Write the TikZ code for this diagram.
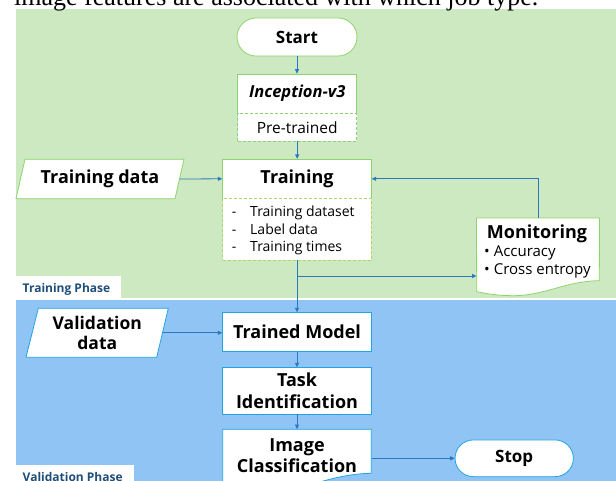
\documentclass[tikz,border=0pt]{standalone}
\usepackage{fontspec}
\setmainfont{Open Sans}
\newfontfamily\capfont{Liberation Serif}
\usetikzlibrary{arrows.meta}
\definecolor{greenbg}{HTML}{CCE9C1}
\definecolor{bluebg}{HTML}{90C4F4}
\definecolor{greenln}{HTML}{8FD36C}
\definecolor{greendash}{HTML}{8FD17A}
\definecolor{olivedash}{HTML}{B3D36B}
\definecolor{blueln}{HTML}{22A3E3}
\definecolor{arrowc}{HTML}{2A78C2}
\definecolor{phasec}{HTML}{1F4E79}
\begin{document}
\begin{tikzpicture}[x=1pt,y=-1pt,
  arr/.style={draw=arrowc, line width=0.8pt, -{Triangle[length=4.5pt,width=4pt]}},
  gbox/.style={draw=greenln, fill=white, line width=0.8pt, inner sep=0pt},
  bbox/.style={draw=blueln, fill=white, line width=0.8pt, inner sep=0pt},
  dashbox/.style={dash pattern=on 3pt off 2pt},
  shapeln/.style={fill=white, line width=0.8pt},
  bigbold/.style={font=\bfseries\fontsize{18}{21.6}\selectfont},
  listtxt/.style={anchor=base west, inner sep=0pt, font=\fontsize{14}{16}\selectfont},
  montxt/.style={anchor=base west, inner sep=0pt, font=\fontsize{15}{18}\selectfont},
  phasetxt/.style={anchor=base west, inner sep=0pt, text=phasec, font=\bfseries\fontsize{12}{15}\selectfont}]
\useasboundingbox (0,0) rectangle (616,481);
\clip (0,0) rectangle (616,481);
% backgrounds
\fill[greenbg] (16,9.5) rectangle (616,298);
\fill[bluebg] (16,300) rectangle (616,481);
% clipped caption line
\node[anchor=base west, inner sep=0pt, font=\capfont\fontsize{26}{30}\selectfont] (caption) at (14,5.5) {image features are associated with which job type.};
% phase labels
\fill[white] (16,276) rectangle (121,298);
\node[phasetxt] (tphase) at (22.5,292.5) {Training Phase};
\fill[white] (16,465) rectangle (134,481);
\node[phasetxt] (vphase) at (22.5,481.5) {Validation Phase};
% training phase nodes
\node[gbox, rounded corners=19pt, minimum width=120pt, minimum height=38pt, font=\bfseries\fontsize{17}{20}\selectfont] (start) at (297,37) {Start};
\node[gbox, minimum width=119pt, minimum height=39.3pt, font=\bfseries\itshape\fontsize{16.5}{20}\selectfont] (incep) at (297.2,93.7) {Inception-v3};
\node[gbox, draw=greendash, dashbox, minimum width=119pt, minimum height=27.7pt, font=\fontsize{15.5}{18}\selectfont] (pre) at (297.2,127.2) {Pre-trained};
\node[gbox, bigbold, minimum width=148.6pt, minimum height=39pt] (train) at (297,178.8) {Training};
\node[gbox, draw=olivedash, dashbox, minimum width=148.6pt, minimum height=61.7pt] (list) at (297,229.2) {};
\node[listtxt] (l1d) at (231.7,216.7) {-};
\node[listtxt] (l1) at (250,216.7) {Training dataset};
\node[listtxt] (l2d) at (231.7,234.2) {-};
\node[listtxt] (l2) at (250,234.2) {Label data};
\node[listtxt] (l3d) at (231.7,251.7) {-};
\node[listtxt] (l3) at (250,251.7) {Training times};
% training data (parallelogram)
\filldraw[shapeln, draw=greenln] (25,159.3) -- (184,159.3) -- (175,198.7) -- (16,198.7) -- cycle;
\node[bigbold, inner sep=0pt, minimum width=159pt, minimum height=39.4pt] (tdata) at (100,179) {Training data};
% monitoring (document shape)
\node[inner sep=0pt, minimum width=122.6pt, minimum height=73.4pt] (mon) at (538,255) {};
\filldraw[shapeln, draw=greenln] (mon.north west) -- (mon.north east) -- (599.3,280.7)
  .. controls (565,281) and (545,296) .. (512,295.7)
  .. controls (497,295.6) and (486,293.5) .. (476.7,291.7) -- cycle;
\node[anchor=base, inner sep=0pt, bigbold] (montitle) at (537,239) {Monitoring};
\node[montxt] (monacc) at (484,257) {•\hspace{4pt}Accuracy};
\node[montxt] (moncross) at (484,275) {•\hspace{4pt}Cross entropy};
% validation phase nodes
\filldraw[shapeln, draw=blueln] (38.3,308.3) -- (168.3,308.3) -- (156.7,357.3) -- (26,357.3) -- cycle;
\node[inner sep=0pt, align=center, minimum width=130.3pt, minimum height=49pt, font=\bfseries\fontsize{17.5}{20.7}\selectfont] (vdata) at (97.3,332.8) {Validation\\data};
\node[bbox, bigbold, minimum width=148.6pt, minimum height=39pt] (trained) at (297,332.2) {Trained Model};
\node[bbox, align=center, minimum width=148.6pt, minimum height=46.3pt, font=\bfseries\fontsize{18}{21.7}\selectfont] (task) at (297,390.8) {Task\\Identification};
\filldraw[shapeln, draw=blueln] (222.7,429.3) -- (371.3,429.3) -- (371.3,473.3)
  .. controls (329,474) and (305,491.5) .. (265,491.3)
  .. controls (247,491.2) and (234,488.5) .. (222.7,486.6) -- cycle;
\node[inner sep=0pt, align=center, minimum width=148.6pt, minimum height=51.7pt, font=\bfseries\fontsize{18}{21}\selectfont] (imgc) at (297,455.2) {Image\\Classification};
\node[bbox, rounded corners=18.3pt, minimum width=118.3pt, minimum height=36.7pt, font=\bfseries\fontsize{17}{20}\selectfont] (stop) at (514.2,458.3) {Stop};
% connectors
\coordinate (br) at (297,276);
\draw[arr] (start.south) -- (start.south |- incep.north);
\draw[arr] (pre.south) -- (pre.south |- train.north);
\draw[arr] (tdata.east) -- (train.west);
\draw[arr] (mon.north) |- (train.east);
\draw[arr] (list.south) -- (trained.north);
\draw[arr] (br) -- (br -| mon.west);
\draw[arr] (vdata.east) -- (vdata.east -| trained.west);
\draw[arr] (trained.south) -- (task.north);
\draw[arr] (task.south) -- (imgc.north);
\draw[arr] (stop.west -| imgc.east) -- (stop.west);
\end{tikzpicture}
\end{document}
